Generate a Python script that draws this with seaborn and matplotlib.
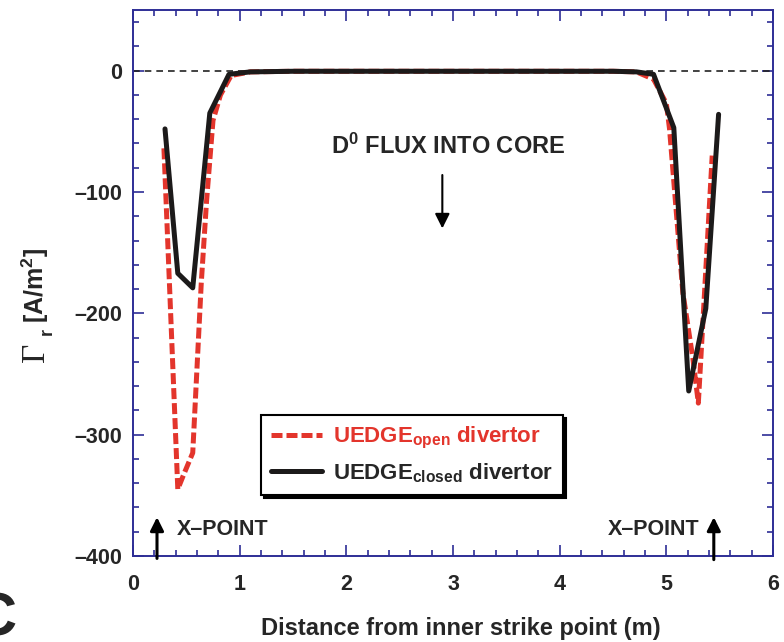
import numpy as np
import pandas as pd
import matplotlib
matplotlib.use("Agg")
import matplotlib.pyplot as plt
import seaborn as sns
from matplotlib.ticker import MultipleLocator

# Radial neutral flux along the separatrix, open vs closed divertor
closed_x = [0.30, 0.42, 0.56, 0.72, 0.90, 1.10, 1.50, 2.00, 2.50, 3.00, 3.50,
            4.00, 4.50, 4.72, 4.88, 5.07, 5.21, 5.37, 5.49]
closed_y = [-48, -167, -179, -35, -3, -1, -0.5, -0.5, -0.5, -0.5, -0.5,
            -0.5, -0.5, -1, -3, -47, -264, -196, -36]

open_x = [0.29, 0.42, 0.47, 0.56, 0.64, 0.69, 0.75, 0.82, 0.92, 1.10, 1.50,
          2.00, 2.50, 3.00, 3.50, 4.00, 4.50, 4.72, 4.88, 5.00, 5.03, 5.155,
          5.25, 5.30, 5.43]
open_y = [-64, -345, -334, -315, -175, -107, -41, -20, -4, -1, -0.5,
          -0.5, -0.5, -0.5, -0.5, -0.5, -0.5, -1, -7, -27, -48, -183,
          -238, -274, -70]

x_ticks = [0, 1, 2, 3, 4, 5, 6]
y_ticks = [-400, -300, -200, -100, 0]

RED = "#e3352c"
AXIS_BLUE = "#2e2e96"
SANS = ["Liberation Sans", "DejaVu Sans"]

sns.set_style("ticks")
plt.rcParams["font.family"] = SANS
plt.rcParams["font.weight"] = "bold"
plt.rcParams["mathtext.fontset"] = "custom"
plt.rcParams["mathtext.rm"] = "Liberation Serif"
plt.rcParams["mathtext.bf"] = "Liberation Sans:bold"
plt.rcParams["mathtext.it"] = "Liberation Sans:bold"

fig = plt.figure(figsize=(7.84, 6.42), dpi=100)
ax = fig.add_axes([133 / 784, 1 - 556 / 642, 640 / 784, 546 / 642])

df_open = pd.DataFrame({"x": open_x, "y": open_y})
df_closed = pd.DataFrame({"x": closed_x, "y": closed_y})

ax.axhline(0, color="#222222", lw=1.2, ls=(0, (4, 3)), zorder=1)
sns.lineplot(data=df_open, x="x", y="y", ax=ax, sort=False, color=RED,
             lw=3.6, ls=(0, (2.2, 0.8)), label=r"UEDGE$_{\mathbf{open}}$ divertor",
             zorder=3)
sns.lineplot(data=df_closed, x="x", y="y", ax=ax, sort=False, color="#1c1a1a",
             lw=3.6, label=r"UEDGE$_{\mathbf{closed}}$ divertor", zorder=4)

ax.set_xlim(0, 6)
ax.set_ylim(-400, 50)
ax.set_xticks(x_ticks)
ax.set_yticks(y_ticks)
ax.set_xticklabels([str(t) for t in x_ticks])
ax.set_yticklabels([str(t).replace("-", "\u2013") for t in y_ticks])
ax.xaxis.set_minor_locator(MultipleLocator(0.2))
ax.yaxis.set_minor_locator(MultipleLocator(20))

for side in ["left", "right", "top", "bottom"]:
    ax.spines[side].set_visible(True)
    ax.spines[side].set_color(AXIS_BLUE)
    ax.spines[side].set_linewidth(1.4)
ax.tick_params(which="both", direction="in", top=True, right=True,
               color=AXIS_BLUE, width=1.2)
ax.tick_params(which="major", length=8, labelsize=15.5, pad=8)
ax.tick_params(which="minor", length=4.5)
ax.tick_params(axis="x", which="major", pad=13)
for lab in ax.get_xticklabels() + ax.get_yticklabels():
    lab.set_fontweight("bold")

ax.set_xlabel("")
ax.set_ylabel("")
fig.text(461 / 784, 1 - 628 / 642, "Distance from inner strike point (m)",
         ha="center", va="center", fontsize=17, fontweight="bold")

# y-axis label: serif Gamma with bold subscript, then units
fig.text(36 / 784, 1 - 352 / 642, "\u0393", rotation=90, ha="center",
         va="center", fontsize=24, family="Liberation Serif",
         fontweight="normal")
fig.text(47 / 784, 1 - 332 / 642, "r", rotation=90, ha="center",
         va="center", fontsize=13, fontweight="bold")
fig.text(35 / 784, 1 - 285 / 642, r"[A/m$^{\mathbf{2}}$]", rotation=90,
         ha="center", va="center", fontsize=18, fontweight="bold")

# annotations
ax.text(2.95, -62, r"D$^{\mathbf{0}}$ FLUX INTO CORE", ha="center",
        va="center", fontsize=17, fontweight="bold")
ax.annotate("", xy=(2.90, -130), xytext=(2.90, -86),
            arrowprops=dict(arrowstyle="-|>", color="black", lw=1.5,
                            mutation_scale=22, shrinkA=0, shrinkB=0))
ax.text(0.41, -378, "X\u2013POINT", ha="left", va="center", fontsize=15.5,
        fontweight="bold")
ax.annotate("", xy=(0.225, -368), xytext=(0.225, -402),
            arrowprops=dict(arrowstyle="-|>", color="black", lw=2.2,
                            mutation_scale=20, shrinkA=0, shrinkB=0),
            annotation_clip=False)
ax.text(5.31, -378, "X\u2013POINT", ha="right", va="center", fontsize=15.5,
        fontweight="bold")
ax.annotate("", xy=(5.445, -368), xytext=(5.445, -403),
            arrowprops=dict(arrowstyle="-|>", color="black", lw=2.2,
                            mutation_scale=20, shrinkA=0, shrinkB=0),
            annotation_clip=False)

leg = ax.legend(loc="upper left", bbox_to_anchor=(117 / 640, 1 - 394 / 546),
                frameon=True, fancybox=False, fontsize=16, handlelength=2.3,
                handletextpad=0.5, borderpad=0.45, labelspacing=0.45,
                shadow={"color": "black", "alpha": 1.0})
leg.get_frame().set_edgecolor("black")
leg.get_frame().set_linewidth(1.5)
leg.get_texts()[0].set_color(RED)
for t in leg.get_texts():
    t.set_fontweight("bold")

fig.text(17 / 784, 1 - 635 / 642, "C", ha="right", va="baseline",
         fontsize=44, fontweight="bold")

fig.savefig("out.png", dpi=100)
